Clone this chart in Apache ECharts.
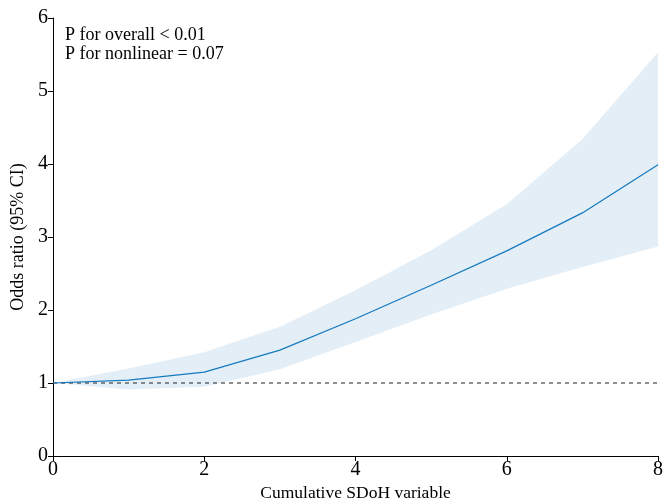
<!DOCTYPE html>
<html>
<head>
<meta charset="utf-8">
<script src="https://cdn.jsdelivr.net/npm/echarts@6/dist/echarts.min.js"></script>
<style>html,body{margin:0;padding:0;background:#fff;}#c{width:664px;height:499px;}</style>
</head>
<body>
<div id="c"></div>
<script>
const xValues = [0, 1, 2, 3, 4, 5, 6, 7, 8];
const orValues = [1.0, 1.04, 1.15, 1.45, 1.88, 2.34, 2.81, 3.33, 3.99];
const upperCI = [1.0, 1.2, 1.42, 1.77, 2.27, 2.82, 3.45, 4.34, 5.53];
const lowerCI = [1.0, 0.91, 0.95, 1.19, 1.56, 1.94, 2.29, 2.59, 2.87];
const refValue = 1;
const annotations = ["P for overall < 0.01", "P for nonlinear = 0.07"];

const font = "'Liberation Serif', 'Times New Roman', serif";
const chart = echarts.init(document.getElementById('c'));
chart.setOption({
  animation: false,
  grid: { left: 53, right: 6, top: 18, bottom: 43, outerBoundsMode: 'none', containLabel: false },
  xAxis: {
    type: 'value', min: 0, max: 8, interval: 2,
    name: 'Cumulative SDoH variable', nameLocation: 'middle', nameGap: 28,
    nameTextStyle: { fontFamily: font, fontSize: 17.5, color: '#000' },
    axisLine: { lineStyle: { color: '#000', width: 1 } },
    axisTick: { show: true, length: 5, lineStyle: { color: '#000' } },
    axisLabel: { fontFamily: font, fontSize: 20, color: '#000', margin: 4 },
    splitLine: { show: false }
  },
  yAxis: {
    type: 'value', min: 0, max: 6, interval: 1,
    name: 'Odds ratio (95% CI)', nameLocation: 'middle', nameGap: 21,
    nameTextStyle: { fontFamily: font, fontSize: 18, color: '#000' },
    axisLine: { show: true, lineStyle: { color: '#000', width: 1 } },
    axisTick: { show: true, length: 5, lineStyle: { color: '#000' } },
    axisLabel: { fontFamily: font, fontSize: 20, color: '#000', margin: 5 },
    splitLine: { show: false }
  },
  graphic: [{
    type: 'text', left: 65, top: 26,
    style: { text: annotations.join('\n'), font: '18px ' + font, fill: '#000', lineHeight: 19 }
  }],
  series: [
    {
      type: 'custom', silent: true, z: 1,
      data: xValues.map((x, i) => [x, lowerCI[i], upperCI[i]]),
      renderItem: function (params, api) {
        if (params.dataIndex !== 0) return null;
        const up = [], lo = [];
        for (let i = 0; i < xValues.length; i++) {
          up.push(api.coord([xValues[i], upperCI[i]]));
          lo.push(api.coord([xValues[i], lowerCI[i]]));
        }
        return {
          type: 'polygon',
          shape: { points: up.concat(lo.reverse()) },
          style: { fill: '#e3eef7' }
        };
      }
    },
    {
      type: 'line', symbol: 'none', silent: true, z: 2,
      data: [[0, refValue], [8, refValue]],
      lineStyle: { color: '#444', width: 1.2, type: [4, 4] }
    },
    {
      type: 'line', symbol: 'none', silent: true, z: 3,
      data: xValues.map((x, i) => [x, orValues[i]]),
      lineStyle: { color: '#1579be', width: 1.2 }
    }
  ]
});
</script>
</body>
</html>
